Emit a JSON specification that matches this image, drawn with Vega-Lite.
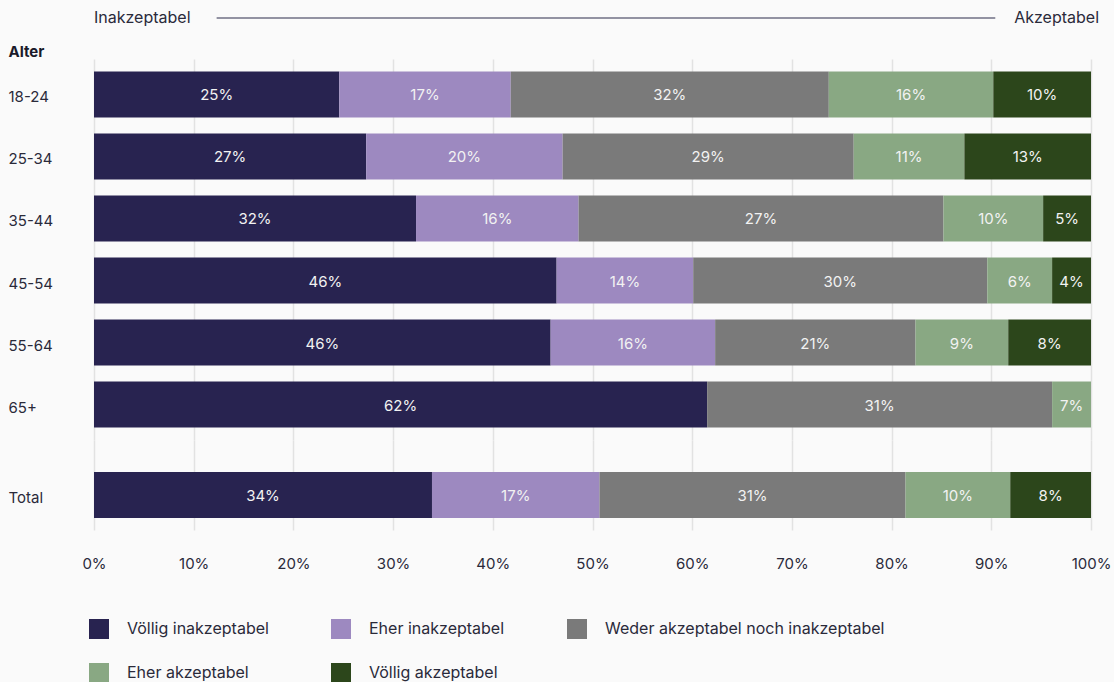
{
  "$schema": "https://vega.github.io/schema/vega-lite/v6.json",
  "background": "#fafafa",
  "padding": {"top": 8, "left": 8, "right": 3, "bottom": 0},
  "config": {
    "font": "Inter",
    "view": {"stroke": null},
    "axis": {"labelColor": "#2a2a3a", "labelFontSize": 15, "gridColor": "#e2e2e2", "gridWidth": 1.5, "labelFlush": false},
    "legend": {
      "orient": "bottom", "direction": "horizontal", "columns": 3, "title": null,
      "symbolType": "square", "symbolSize": 400, "symbolStrokeWidth": 0, "symbolOpacity": 1, "symbolOffset": -5,
      "labelFontSize": 16, "labelColor": "#2a2a3a", "labelOffset": 18, "labelLimit": 0,
      "columnPadding": 62, "rowPadding": 24, "offset": 48, "padding": 0
    }
  },
  "datasets": {
    "d": [
      {"g": "18-24", "c": "Völlig inakzeptabel", "k": 1, "v": 24.6, "lab": "25%"},
      {"g": "18-24", "c": "Eher inakzeptabel", "k": 2, "v": 17.2, "lab": "17%"},
      {"g": "18-24", "c": "Weder akzeptabel noch inakzeptabel", "k": 3, "v": 31.9, "lab": "32%"},
      {"g": "18-24", "c": "Eher akzeptabel", "k": 4, "v": 16.5, "lab": "16%"},
      {"g": "18-24", "c": "Völlig akzeptabel", "k": 5, "v": 9.8, "lab": "10%"},
      {"g": "25-34", "c": "Völlig inakzeptabel", "k": 1, "v": 27.3, "lab": "27%"},
      {"g": "25-34", "c": "Eher inakzeptabel", "k": 2, "v": 19.7, "lab": "20%"},
      {"g": "25-34", "c": "Weder akzeptabel noch inakzeptabel", "k": 3, "v": 29.2, "lab": "29%"},
      {"g": "25-34", "c": "Eher akzeptabel", "k": 4, "v": 11.1, "lab": "11%"},
      {"g": "25-34", "c": "Völlig akzeptabel", "k": 5, "v": 12.7, "lab": "13%"},
      {"g": "35-44", "c": "Völlig inakzeptabel", "k": 1, "v": 32.3, "lab": "32%"},
      {"g": "35-44", "c": "Eher inakzeptabel", "k": 2, "v": 16.3, "lab": "16%"},
      {"g": "35-44", "c": "Weder akzeptabel noch inakzeptabel", "k": 3, "v": 36.6, "lab": "27%"},
      {"g": "35-44", "c": "Eher akzeptabel", "k": 4, "v": 10.0, "lab": "10%"},
      {"g": "35-44", "c": "Völlig akzeptabel", "k": 5, "v": 4.8, "lab": "5%"},
      {"g": "45-54", "c": "Völlig inakzeptabel", "k": 1, "v": 46.4, "lab": "46%"},
      {"g": "45-54", "c": "Eher inakzeptabel", "k": 2, "v": 13.7, "lab": "14%"},
      {"g": "45-54", "c": "Weder akzeptabel noch inakzeptabel", "k": 3, "v": 29.5, "lab": "30%"},
      {"g": "45-54", "c": "Eher akzeptabel", "k": 4, "v": 6.5, "lab": "6%"},
      {"g": "45-54", "c": "Völlig akzeptabel", "k": 5, "v": 3.9, "lab": "4%"},
      {"g": "55-64", "c": "Völlig inakzeptabel", "k": 1, "v": 45.8, "lab": "46%"},
      {"g": "55-64", "c": "Eher inakzeptabel", "k": 2, "v": 16.5, "lab": "16%"},
      {"g": "55-64", "c": "Weder akzeptabel noch inakzeptabel", "k": 3, "v": 20.1, "lab": "21%"},
      {"g": "55-64", "c": "Eher akzeptabel", "k": 4, "v": 9.3, "lab": "9%"},
      {"g": "55-64", "c": "Völlig akzeptabel", "k": 5, "v": 8.3, "lab": "8%"},
      {"g": "65+", "c": "Völlig inakzeptabel", "k": 1, "v": 61.5, "lab": "62%"},
      {"g": "65+", "c": "Weder akzeptabel noch inakzeptabel", "k": 3, "v": 34.6, "lab": "31%"},
      {"g": "65+", "c": "Eher akzeptabel", "k": 4, "v": 3.9, "lab": "7%"},
      {"g": "Total", "c": "Völlig inakzeptabel", "k": 1, "v": 33.9, "lab": "34%"},
      {"g": "Total", "c": "Eher inakzeptabel", "k": 2, "v": 16.8, "lab": "17%"},
      {"g": "Total", "c": "Weder akzeptabel noch inakzeptabel", "k": 3, "v": 30.7, "lab": "31%"},
      {"g": "Total", "c": "Eher akzeptabel", "k": 4, "v": 10.5, "lab": "10%"},
      {"g": "Total", "c": "Völlig akzeptabel", "k": 5, "v": 8.1, "lab": "8%"}
    ]
  },
  "spacing": 31,
  "bounds": "flush",
  "resolve": {"scale": {"color": "shared"}},
  "vconcat": [
    {
      "width": 997,
      "height": 20,
      "data": {"values": [{"a": "Inakzeptabel", "b": "Akzeptabel"}]},
      "layer": [
        {
          "mark": {"type": "rule", "color": "#2a2a4a", "strokeWidth": 1.2},
          "encoding": {
            "x": {"datum": 12.3, "type": "quantitative", "scale": {"domain": [0, 100]}, "axis": null},
            "x2": {"datum": 90.4}
          }
        },
        {
          "mark": {"type": "text", "align": "left", "fontSize": 16, "color": "#2a2a3a"},
          "encoding": {"x": {"datum": 0, "type": "quantitative"}, "text": {"field": "a"}}
        },
        {
          "mark": {"type": "text", "align": "right", "dx": 8, "fontSize": 16, "color": "#2a2a3a"},
          "encoding": {"x": {"datum": 100, "type": "quantitative"}, "text": {"field": "b"}}
        }
      ]
    },
    {
      "vconcat": [
        {
          "width": 997,
          "height": 381,
          "data": {"name": "d"},
          "transform": [{"filter": "datum.g !== 'Total'"}],
          "encoding": {
            "y": {
              "field": "g", "type": "nominal",
              "sort": ["18-24", "25-34", "35-44", "45-54", "55-64", "65+"],
              "scale": {"paddingInner": 0.258, "paddingOuter": 0.2},
              "axis": {
                "title": "Alter", "titleAngle": 0, "titleAlign": "left", "titleBaseline": "middle",
                "titleX": -86, "titleY": -8, "titleFontWeight": "bold", "titleFontSize": 15, "titleColor": "#1a1a2a",
                "labelAlign": "left", "labelPadding": 86, "labelOffset": 3, "ticks": false, "domain": false, "grid": false
              }
            }
          },
          "layer": [
            {
              "mark": {"type": "bar"},
              "encoding": {
                "x": {
                  "field": "v", "type": "quantitative", "stack": "zero",
                  "scale": {"domain": [0, 100]},
                  "axis": {"labels": false, "ticks": false, "domain": false, "grid": true, "title": null, "values": [0, 10, 20, 30, 40, 50, 60, 70, 80, 90, 100]}
                },
                "color": {
                  "field": "c", "type": "nominal",
                  "scale": {
                    "domain": ["Völlig inakzeptabel", "Eher inakzeptabel", "Weder akzeptabel noch inakzeptabel", "Eher akzeptabel", "Völlig akzeptabel"],
                    "range": ["#282350", "#9d89c0", "#7a7a7a", "#89a883", "#2c461b"]
                  }
                },
                "order": {"field": "k", "type": "quantitative"}
              }
            },
            {
              "mark": {"type": "text", "fontSize": 15, "color": "#f2f2f2", "dy": 1},
              "encoding": {
                "x": {"field": "v", "type": "quantitative", "stack": "zero", "bandPosition": 0.5},
                "detail": {"field": "c"},
                "order": {"field": "k", "type": "quantitative"},
                "text": {"field": "lab"}
              }
            }
          ]
        },
        {
          "width": 997,
          "height": 90,
          "data": {"name": "d"},
          "transform": [{"filter": "datum.g === 'Total'"}],
          "encoding": {
            "y": {
              "field": "g", "type": "nominal",
              "scale": {"paddingInner": 0, "paddingOuter": 0.478, "align": 0.727},
              "axis": {"title": null, "labelAlign": "left", "labelPadding": 86, "labelOffset": 3, "ticks": false, "domain": false, "grid": false}
            }
          },
          "layer": [
            {
              "mark": {"type": "bar"},
              "encoding": {
                "x": {
                  "field": "v", "type": "quantitative", "stack": "zero",
                  "scale": {"domain": [0, 100]},
                  "axis": {"labelExpr": "datum.value + '%'", "ticks": false, "domain": false, "grid": true, "title": null, "labelPadding": 26, "values": [0, 10, 20, 30, 40, 50, 60, 70, 80, 90, 100]}
                },
                "color": {"field": "c", "type": "nominal"},
                "order": {"field": "k", "type": "quantitative"}
              }
            },
            {
              "mark": {"type": "text", "fontSize": 15, "color": "#f2f2f2", "dy": 1},
              "encoding": {
                "x": {"field": "v", "type": "quantitative", "stack": "zero", "bandPosition": 0.5},
                "detail": {"field": "c"},
                "order": {"field": "k", "type": "quantitative"},
                "text": {"field": "lab"}
              }
            }
          ]
        }
      ],
      "spacing": 0,
      "bounds": "flush"
    }
  ]
}
